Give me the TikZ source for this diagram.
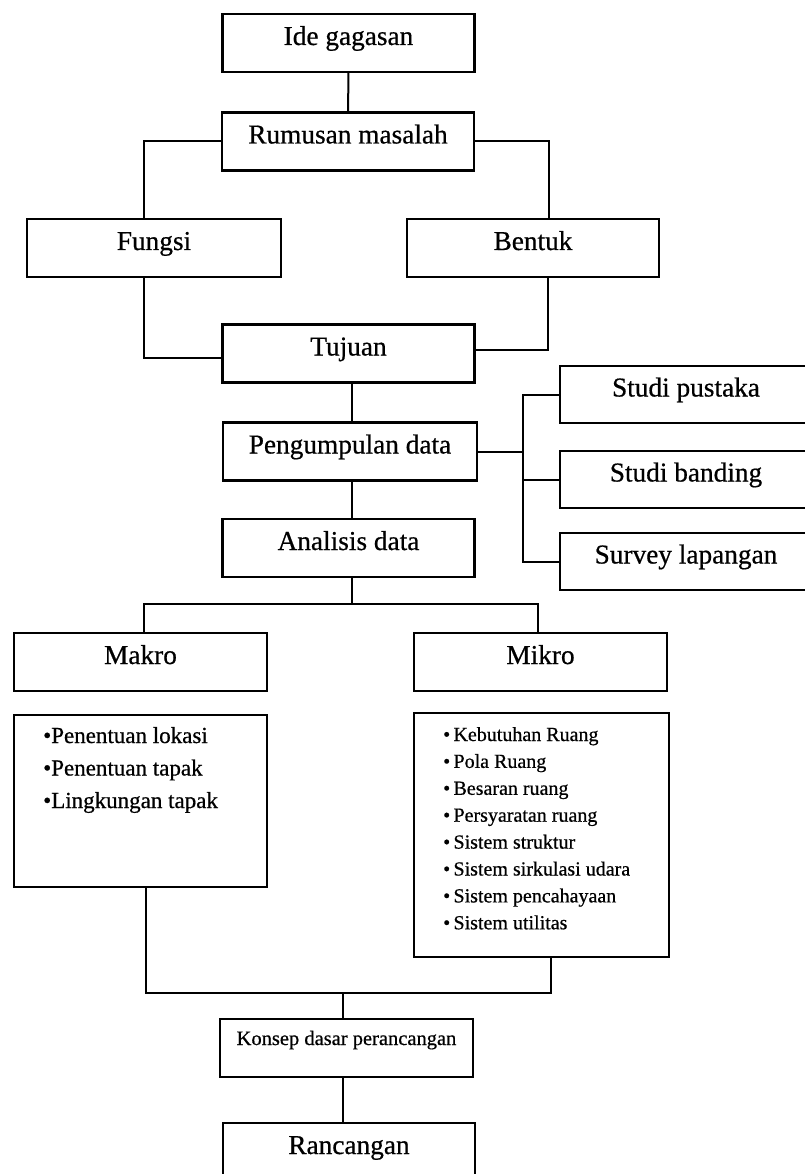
\documentclass[tikz,border=0pt]{standalone}
\usepackage{fontspec}
\setmainfont{Liberation Serif}[FakeBold=0.6]
\newfontfamily\heavyserif{Liberation Serif}[FakeBold=0.6]
\newcommand\mainsz{\heavyserif\fontsize{27.3}{32}\selectfont}
\newcommand\konsepsz{\heavyserif\fontsize{20.5}{24}\selectfont}
\newcommand\listasz{\heavyserif\fontsize{23}{26}\selectfont}
\newcommand\listbsz{\heavyserif\fontsize{20}{24}\selectfont}
\begin{document}
\begin{tikzpicture}[x=1pt,y=-1pt,
  box/.style={draw, line width=2.2pt, minimum width=252pt, minimum height=58pt,
    inner sep=0pt, text height=4pt, text depth=0pt, font=\mainsz},
  conn/.style={line width=2pt},
  heavy/.style={line width=2.8pt},
  lista/.style={anchor=base west, inner sep=0pt, font=\listasz},
  listb/.style={anchor=base west, inner sep=0pt, font=\listbsz}]
\useasboundingbox (0,0) rectangle (804,1174);
\fill[white] (0,0) rectangle (804,1174);
% boxes
\node[box] (ide) at (348.5,43) {Ide gagasan};
\node[box] (rum) at (348,141.5) {Rumusan masalah};
\node[box, minimum width=254pt] (fungsi) at (154,248) {Fungsi};
\node[box] (bentuk) at (533,248) {Bentuk};
\node[box] (tujuan) at (348.5,353.5) {Tujuan};
\node[box, minimum width=254pt] (kumpul) at (350,451.5) {Pengumpulan data};
\node[box] (analisis) at (348.5,548) {Analisis data};
\node[box, minimum height=57pt] (pustaka) at (686,394.5) {Studi pustaka};
\node[box, minimum height=57pt] (banding) at (686,479.5) {Studi banding};
\node[box, minimum height=57pt] (survey) at (686,561.5) {Survey lapangan};
\node[box, minimum width=253pt] (makro) at (140.5,662) {Makro};
\node[box, minimum width=253pt] (mikro) at (540.5,662) {Mikro};
\node[box, minimum width=253pt, minimum height=172pt] (makrolist) at (140.5,801) {};
\node[box, minimum width=255pt, minimum height=244pt] (mikrolist) at (541.5,835) {};
\node[box, font=\konsepsz, minimum width=253pt, text height=0pt, text depth=6pt] (konsep) at (346.5,1048) {Konsep dasar perancangan};
\node[box] (ranc) at (349,1152) {Rancangan};
% list texts
\foreach \t [count=\i] in {Penentuan lokasi,Penentuan tapak,Lingkungan tapak}
  \node[lista] (mkitem\i) at (43,{710.5+32.5*\i}) {•\t};
\foreach \t [count=\i] in {Kebutuhan Ruang,Pola Ruang,Besaran ruang,Persyaratan ruang,Sistem struktur,Sistem sirkulasi udara,Sistem pencahayaan,Sistem utilitas}
  \node[listb] (miitem\i) at (443,{714.1+26.9*\i}) {•\,\t};
% connectors
\draw[conn] (ide) -- (rum);
\draw[conn] (rum.west) -| ([xshift=-10pt]fungsi.north);
\draw[conn] (rum.east) -| ([xshift=16pt]bentuk.north);
\draw[conn] ([xshift=-10pt]fungsi.south) |- ([yshift=-4.5pt]tujuan.west);
\draw[heavy] ([xshift=15pt]bentuk.south) |- ([yshift=3.5pt]tujuan.east);
\draw[conn] ([xshift=3.5pt]tujuan.south) -- ([xshift=2pt]kumpul.north);
\coordinate (br) at (523,449);
\draw[conn] (kumpul.east) -- (kumpul.east -| br);
\draw[conn] (pustaka.west) -| (br) |- (survey.west);
\draw[conn] (banding.west) -- (banding.west -| br);
\draw[conn] ([xshift=2pt]kumpul.south) -- ([xshift=3.5pt]analisis.north);
\coordinate (split) at (352,604);
\draw[conn] ([xshift=3.5pt]analisis.south) -- (split);
\draw[conn] ([xshift=3.5pt]makro.north) |- (split) -| ([xshift=-2.5pt]mikro.north);
\coordinate (join) at (343,993);
\draw[heavy] ([xshift=5.5pt]makrolist.south) |- (join);
\draw[conn] (join) -| ([xshift=9.5pt]mikrolist.south);
\draw[conn] (join) -- (join |- konsep.north);
\draw[conn] (konsep.south -| join) -- (ranc.north -| join);
\end{tikzpicture}
\end{document}
